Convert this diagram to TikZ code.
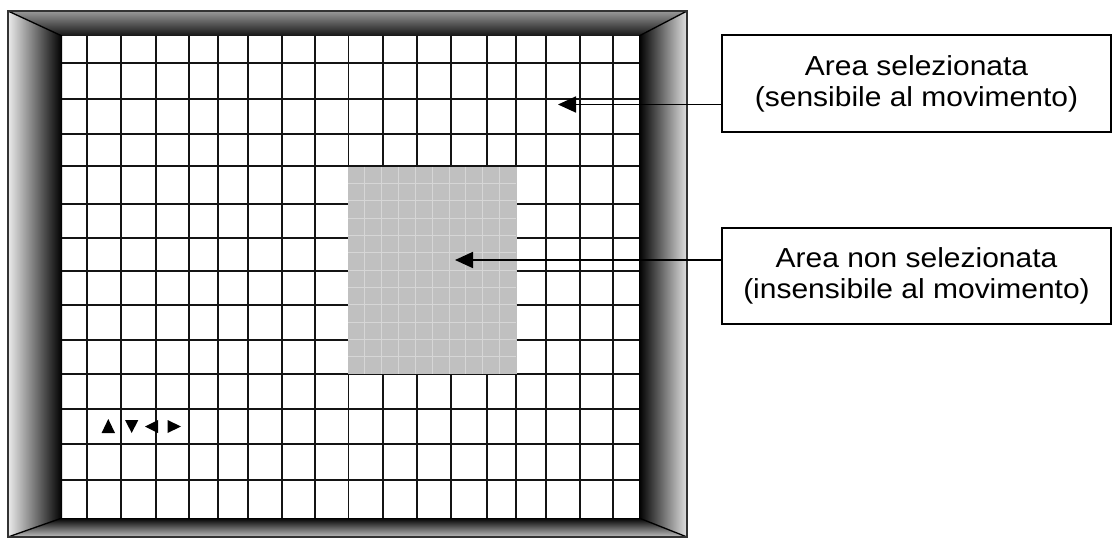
\documentclass[tikz,border=0pt]{standalone}
\usepackage{fontspec}
\setmainfont{Liberation Sans}[FakeStretch=1.09]
\usetikzlibrary{arrows.meta}
\definecolor{areagray}{HTML}{C0C0C0}
\definecolor{arealine}{HTML}{D6D6D6}
\begin{document}
\begin{tikzpicture}[x=1pt,y=-1pt,
  gridline/.style={line width=1.8pt, black!92},
  finegrid/.style={line width=0.8pt, arealine},
  diag/.style={line width=1.3pt, black},
  labelbox/.style={draw=black, line width=1.8pt, fill=white, align=center,
    minimum width=389pt, inner sep=0pt,
    font=\fontsize{27.5}{31}\selectfont},
  pointer/.style={line width=1.8pt, black, -{Triangle[length=18pt,width=16pt]}},
  marker/.style={fill=black, draw=none}]
\useasboundingbox (0,0) rectangle (1116,540);
% inner white area
\fill[white] (62,36) rectangle (639,518);
% frame bands
\shade[top color=black!40, bottom color=black!92] (8,11) -- (687,11) -- (639,36) -- (62,36) -- cycle;
\shade[left color=black!8, right color=black] (8,11) -- (62,36) -- (62,518) -- (8,537) -- cycle;
\shade[left color=black, right color=black!12] (639,36) -- (687,11) -- (687,537) -- (639,518) -- cycle;
\shade[top color=black, bottom color=black!25] (62,518) -- (639,518) -- (687,537) -- (8,537) -- cycle;
\draw[diag] (8,11) -- (62,36);
\draw[diag] (687,11) -- (639,36);
\draw[diag] (8,537) -- (62,518);
\draw[diag] (687,537) -- (639,518);
\draw[line width=1.8pt, black!80] (8,11) rectangle (687,537);
% grid
\foreach \x in {86.7,120.7,155.7,189,218.3,248.3,281.7,315,348.5,383.3,416.7,451,486.7,515.7,545.7,580,613.3}
  \draw[gridline] (\x,36) -- (\x,518);
\foreach \y in {63.3,99,134.3,166,204.3,238.3,270.7,305,340,374,409,444,480}
  \draw[gridline] (62,\y) -- (639,\y);
% non-selected area
\fill[areagray] (347.8,166.9) rectangle (516.6,374.4);
\foreach \x in {364.6,381.5,398.3,415.2,432,448.9,465.7,482.6,499.4}
  \draw[finegrid] (\x,167) -- (\x,374);
\foreach \y in {183.3,200.7,218,235.3,252.7,270,287.3,304.7,322,339.3,356.7}
  \draw[finegrid] (348,\y) -- (516,\y);
% direction markers
\fill[marker] (108.3,419) -- (115,433) -- (101.6,433) -- cycle;
\fill[marker] (125,420) -- (138.3,420) -- (131.7,433) -- cycle;
\fill[marker] (145,426.5) -- (158,420) -- (158,433) -- cycle;
\fill[marker] (181,426.5) -- (167.5,420) -- (167.5,433) -- cycle;
% labels
\node[labelbox, minimum height=97pt] (box1) at (916.5,83.5)
  {Area selezionata\\(sensibile al movimento)};
\node[labelbox, minimum height=96pt] (box2) at (916.5,276)
  {Area non selezionata\\(insensibile al movimento)};
\coordinate (t1) at (558,104.5);
\coordinate (t2) at (455,260);
\draw[pointer] (box1.west |- t1) -- (t1);
\draw[pointer] (box2.west |- t2) -- (t2);
\end{tikzpicture}
\end{document}
